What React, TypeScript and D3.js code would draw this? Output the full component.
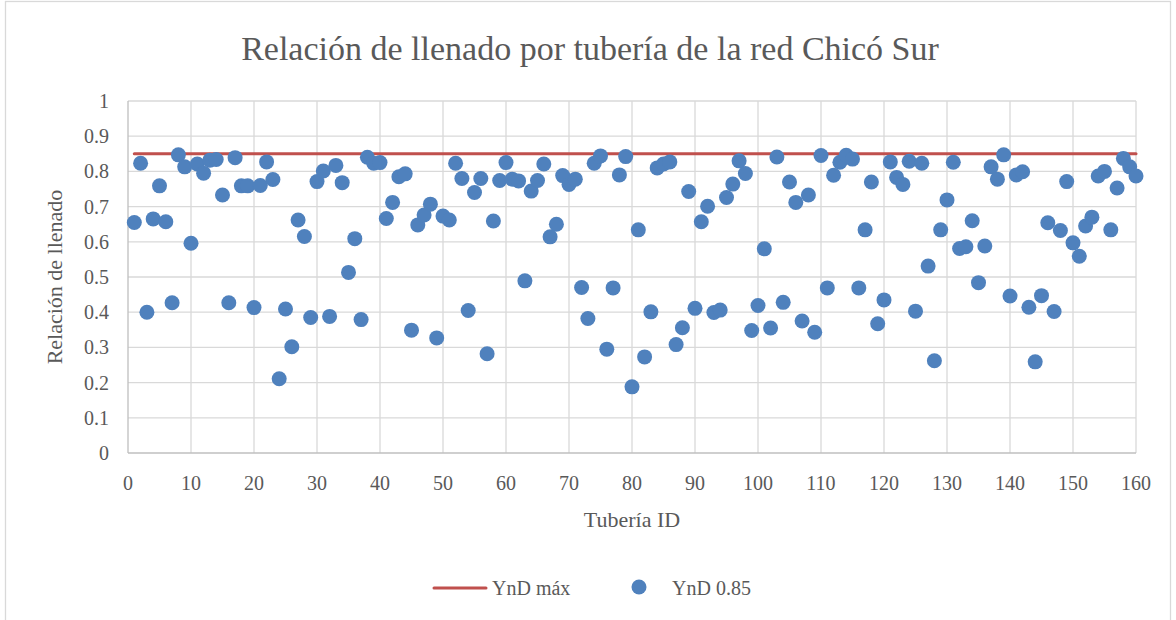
import { useEffect, useRef } from "react";
import * as d3 from "d3";

// Relación de llenado (YnD) per pipe, pipe ID = position + 1
const ynd = [
  0.655, 0.823, 0.4, 0.665, 0.759, 0.657, 0.427, 0.847, 0.813, 0.596,
  0.821, 0.795, 0.832, 0.834, 0.733, 0.427, 0.839, 0.759, 0.759, 0.413,
  0.76, 0.827, 0.777, 0.211, 0.409, 0.302, 0.662, 0.615, 0.385, 0.771,
  0.801, 0.388, 0.817, 0.768, 0.513, 0.609, 0.379, 0.84, 0.823, 0.825,
  0.666, 0.712, 0.785, 0.793, 0.349, 0.648, 0.676, 0.707, 0.327, 0.673,
  0.662, 0.823, 0.78, 0.405, 0.74, 0.78, 0.282, 0.659, 0.774, 0.825,
  0.778, 0.773, 0.489, 0.744, 0.774, 0.821, 0.614, 0.65, 0.788, 0.763,
  0.778, 0.47, 0.382, 0.823, 0.844, 0.295, 0.469, 0.79, 0.842, 0.188,
  0.634, 0.273, 0.401, 0.81, 0.821, 0.827, 0.308, 0.356, 0.743, 0.411,
  0.657, 0.701, 0.399, 0.406, 0.726, 0.764, 0.83, 0.794, 0.348, 0.419,
  0.58, 0.355, 0.841, 0.428, 0.77, 0.712, 0.375, 0.733, 0.343, 0.845,
  0.469, 0.789, 0.826, 0.846, 0.835, 0.469, 0.634, 0.77, 0.367, 0.435,
  0.827, 0.783, 0.763, 0.829, 0.403, 0.823, 0.531, 0.262, 0.634, 0.719,
  0.826, 0.581, 0.586, 0.66, 0.484, 0.588, 0.813, 0.778, 0.847, 0.446,
  0.79, 0.799, 0.414, 0.259, 0.447, 0.654, 0.402, 0.632, 0.771, 0.597,
  0.559, 0.645, 0.67, 0.787, 0.8, 0.634, 0.753, 0.837, 0.813, 0.787,
];

const yndMax = 0.85;
const maxFrom = 1;
const maxTo = 160;

const xTicks = [0, 10, 20, 30, 40, 50, 60, 70, 80, 90, 100, 110, 120, 130, 140, 150, 160];
const yTicks = [0, 0.1, 0.2, 0.3, 0.4, 0.5, 0.6, 0.7, 0.8, 0.9, 1];

const W = 1176;
const H = 620;
const font = '"Liberation Serif", "DejaVu Serif", serif';
const textColor = "#595959";

function renderChart(element: SVGSVGElement) {
  const svg = d3.select(element);
  svg.selectAll("*").remove();

  const left = 128,
    right = 1136,
    top = 101,
    bottom = 453;

  const x = d3.scaleLinear().domain([0, 160]).range([left, right]);
  const y = d3.scaleLinear().domain([0, 1]).range([bottom, top]);

  svg.append("rect").attr("width", W).attr("height", H).attr("fill", "#fff");

  // chart frame
  svg
    .append("rect")
    .attr("x", 5.5)
    .attr("y", 1.5)
    .attr("width", 1165)
    .attr("height", 640)
    .attr("fill", "none")
    .attr("stroke", "#d9d9d9")
    .attr("stroke-width", 1.3);

  // title
  svg
    .append("text")
    .attr("x", 590)
    .attr("y", 60)
    .attr("text-anchor", "middle")
    .style("font-family", font)
    .style("font-size", "34px")
    .attr("fill", textColor)
    .text("Relación de llenado por tubería de la red Chicó Sur");

  // gridlines
  const grid = svg.append("g").attr("stroke", "#d9d9d9").attr("stroke-width", 1.3);
  grid
    .selectAll("line.h")
    .data(yTicks.slice(1))
    .join("line")
    .attr("x1", left)
    .attr("x2", right)
    .attr("y1", (d) => y(d))
    .attr("y2", (d) => y(d));
  grid
    .selectAll("line.v")
    .data(xTicks.slice(1))
    .join("line")
    .attr("x1", (d) => x(d))
    .attr("x2", (d) => x(d))
    .attr("y1", top)
    .attr("y2", bottom);

  // axis lines
  svg
    .append("line")
    .attr("x1", left)
    .attr("x2", right)
    .attr("y1", bottom)
    .attr("y2", bottom)
    .attr("stroke", "#bfbfbf")
    .attr("stroke-width", 1.3);
  svg
    .append("line")
    .attr("x1", left)
    .attr("x2", left)
    .attr("y1", top)
    .attr("y2", bottom)
    .attr("stroke", "#bfbfbf")
    .attr("stroke-width", 1.3);

  // tick labels
  svg
    .append("g")
    .selectAll("text")
    .data(yTicks)
    .join("text")
    .attr("x", 109)
    .attr("y", (d) => y(d))
    .attr("dy", "0.35em")
    .attr("text-anchor", "end")
    .style("font-family", font)
    .style("font-size", "20px")
    .attr("fill", textColor)
    .text((d) => d3.format("~g")(d));

  svg
    .append("g")
    .selectAll("text")
    .data(xTicks)
    .join("text")
    .attr("x", (d) => x(d))
    .attr("y", 490)
    .attr("text-anchor", "middle")
    .style("font-family", font)
    .style("font-size", "20px")
    .attr("fill", textColor)
    .text((d) => d);

  // axis titles
  svg
    .append("text")
    .attr("x", (left + right) / 2)
    .attr("y", 527)
    .attr("text-anchor", "middle")
    .style("font-family", font)
    .style("font-size", "22px")
    .attr("fill", textColor)
    .text("Tubería ID");

  svg
    .append("text")
    .attr("transform", `translate(62, ${(top + bottom) / 2}) rotate(-90)`)
    .attr("text-anchor", "middle")
    .style("font-family", font)
    .style("font-size", "22px")
    .attr("fill", textColor)
    .text("Relación de llenado");

  // YnD máx line
  svg
    .append("line")
    .attr("x1", x(maxFrom))
    .attr("x2", x(maxTo))
    .attr("y1", y(yndMax))
    .attr("y2", y(yndMax))
    .attr("stroke", "#c0504d")
    .attr("stroke-width", 3)
    .attr("stroke-linecap", "round");

  // YnD 0.85 points
  svg
    .append("g")
    .selectAll("circle")
    .data(ynd)
    .join("circle")
    .attr("cx", (d, i) => x(i + 1))
    .attr("cy", (d) => y(d))
    .attr("r", 7.5)
    .attr("fill", "#4f81bd");

  // legend
  const leg = svg.append("g");
  leg
    .append("line")
    .attr("x1", 434)
    .attr("x2", 486)
    .attr("y1", 588)
    .attr("y2", 588)
    .attr("stroke", "#c0504d")
    .attr("stroke-width", 3)
    .attr("stroke-linecap", "round");
  leg
    .append("text")
    .attr("x", 492)
    .attr("y", 595)
    .style("font-family", font)
    .style("font-size", "20px")
    .attr("fill", textColor)
    .text("YnD máx");
  leg
    .append("circle")
    .attr("cx", 639)
    .attr("cy", 587)
    .attr("r", 7.5)
    .attr("fill", "#4f81bd");
  leg
    .append("text")
    .attr("x", 672)
    .attr("y", 595)
    .style("font-family", font)
    .style("font-size", "20px")
    .attr("fill", textColor)
    .text("YnD 0.85");
}

export default function App() {
  const ref = useRef<SVGSVGElement>(null);
  useEffect(() => {
    if (ref.current) renderChart(ref.current);
  }, []);
  return (
    <svg
      ref={ref}
      width={W}
      height={H}
      style={{ position: "absolute", left: 0, top: 0, display: "block" }}
    />
  );
}
